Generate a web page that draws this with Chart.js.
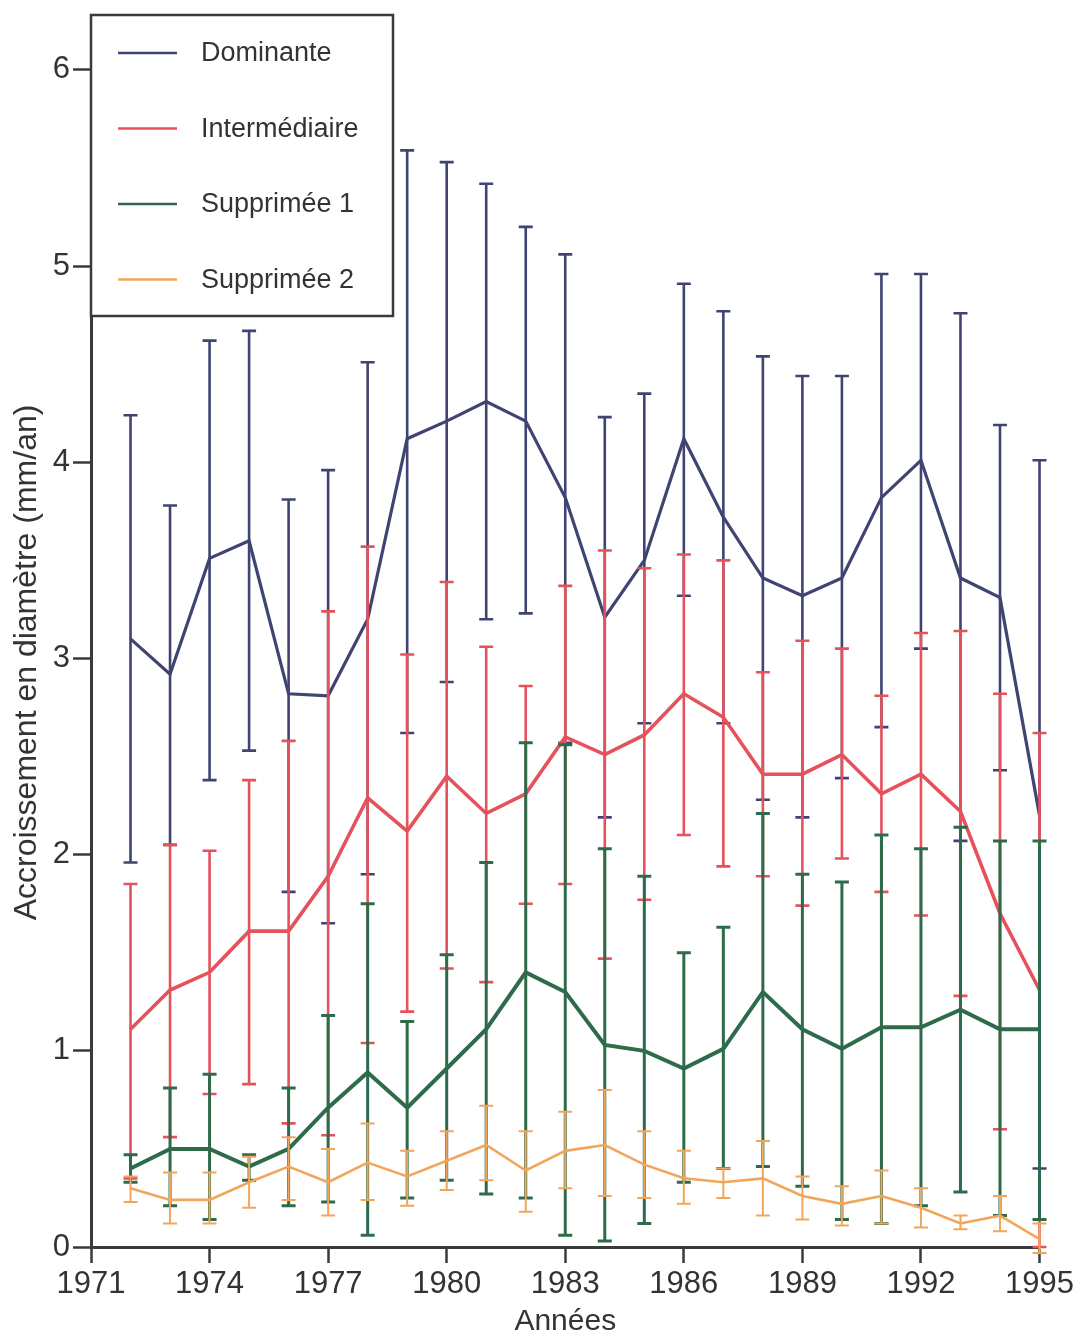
<!DOCTYPE html>
<html>
<head>
<meta charset="utf-8">
<script src="https://cdn.jsdelivr.net/npm/chart.js@4.4.0/dist/chart.umd.min.js"></script>
<style>
  body { margin: 0; background: #fff; }
  #wrap { width: 1077px; height: 1340px; }
</style>
</head>
<body>
<div id="wrap"><canvas id="canvas" width="1077" height="1340"></canvas></div>
<script>
var years = [1972, 1973, 1974, 1975, 1976, 1977, 1978, 1979, 1980, 1981, 1982, 1983,
             1984, 1985, 1986, 1987, 1988, 1989, 1990, 1991, 1992, 1993, 1994, 1995];

// moyennes et bornes des barres d'erreur (mm/an)
var domMean = [3.10, 2.92, 3.51, 3.60, 2.82, 2.81, 3.20, 4.12, 4.21, 4.31, 4.21, 3.82, 3.21, 3.50, 4.12, 3.72, 3.41, 3.32, 3.41, 3.82, 4.01, 3.41, 3.31, 2.20];
var domHi   = [4.24, 3.78, 4.62, 4.67, 3.81, 3.96, 4.51, 5.59, 5.53, 5.42, 5.20, 5.06, 4.23, 4.35, 4.91, 4.77, 4.54, 4.44, 4.44, 4.96, 4.96, 4.76, 4.19, 4.01];
var domLo   = [1.96, 2.05, 2.38, 2.53, 1.81, 1.65, 1.90, 2.62, 2.88, 3.20, 3.23, 2.57, 2.19, 2.67, 3.32, 2.67, 2.28, 2.19, 2.39, 2.65, 3.05, 2.07, 2.43, 0.40];

var intMean = [1.11, 1.31, 1.40, 1.61, 1.61, 1.89, 2.29, 2.12, 2.40, 2.21, 2.31, 2.60, 2.51, 2.61, 2.82, 2.70, 2.41, 2.41, 2.51, 2.31, 2.41, 2.22, 1.70, 1.31];
var intHi   = [1.85, 2.05, 2.02, 2.38, 2.58, 3.24, 3.57, 3.02, 3.39, 3.06, 2.86, 3.37, 3.55, 3.46, 3.53, 3.50, 2.93, 3.09, 3.05, 2.81, 3.13, 3.14, 2.82, 2.62];
var intLo   = [0.35, 0.56, 0.78, 0.83, 0.63, 0.57, 1.04, 1.20, 1.42, 1.35, 1.75, 1.85, 1.47, 1.77, 2.10, 1.94, 1.89, 1.74, 1.98, 1.81, 1.69, 1.28, 0.60, 0.00];

var sup1Mean = [0.40, 0.50, 0.50, 0.41, 0.50, 0.71, 0.89, 0.71, 0.91, 1.11, 1.40, 1.30, 1.03, 1.00, 0.91, 1.01, 1.30, 1.11, 1.01, 1.12, 1.12, 1.21, 1.11, 1.11];
var sup1Hi   = [0.47, 0.81, 0.88, 0.47, 0.81, 1.18, 1.75, 1.15, 1.49, 1.96, 2.57, 2.56, 2.03, 1.89, 1.50, 1.63, 2.21, 1.90, 1.86, 2.10, 2.03, 2.14, 2.07, 2.07];
var sup1Lo   = [0.33, 0.21, 0.14, 0.34, 0.21, 0.23, 0.06, 0.25, 0.34, 0.27, 0.25, 0.06, 0.03, 0.12, 0.33, 0.40, 0.41, 0.31, 0.14, 0.12, 0.21, 0.28, 0.16, 0.14];

var sup2Mean = [0.30, 0.24, 0.24, 0.33, 0.41, 0.33, 0.43, 0.36, 0.44, 0.52, 0.39, 0.49, 0.52, 0.42, 0.35, 0.33, 0.35, 0.26, 0.22, 0.26, 0.20, 0.12, 0.16, 0.04];
var sup2Hi   = [0.36, 0.38, 0.38, 0.46, 0.56, 0.50, 0.63, 0.49, 0.59, 0.72, 0.59, 0.69, 0.80, 0.59, 0.49, 0.40, 0.54, 0.36, 0.31, 0.39, 0.30, 0.16, 0.26, 0.12];
var sup2Lo   = [0.23, 0.12, 0.12, 0.20, 0.24, 0.16, 0.24, 0.21, 0.29, 0.34, 0.18, 0.30, 0.26, 0.25, 0.22, 0.25, 0.16, 0.14, 0.11, 0.12, 0.10, 0.09, 0.08, -0.03];

var yTicks = [0, 1, 2, 3, 4, 5, 6];
var xTicks = [1971, 1974, 1977, 1980, 1983, 1986, 1989, 1992, 1995];

var colors = {
  dom: '#3f4472',
  int: '#e6525c',
  sup1: '#2e6b4b',
  sup2: '#f1a65c',
  axis: '#3a3a3a'
};

var font = '"Liberation Sans", Arial, sans-serif';

function pts(vals) {
  return years.map(function(y, i) { return { x: y, y: vals[i] }; });
}

var errorBars = {
  id: 'errorBars',
  afterDatasetDraw: function(chart, args) {
    var ds = chart.data.datasets[args.index];
    var ctx = chart.ctx, xs = chart.scales.x, ys = chart.scales.y;
    ctx.save();
    ctx.strokeStyle = ds.capColor;
    ctx.lineWidth = ds.errWidth;
    for (var i = 0; i < years.length; i++) {
      var x = xs.getPixelForValue(years[i]);
      var yH = ys.getPixelForValue(ds.hi[i]);
      var yL = ys.getPixelForValue(ds.lo[i]);
      ctx.beginPath();
      ctx.moveTo(x, yH); ctx.lineTo(x, yL);
      ctx.moveTo(x - 7, yH); ctx.lineTo(x + 7, yH);
      ctx.moveTo(x - 7, yL); ctx.lineTo(x + 7, yL);
      ctx.stroke();
    }
    ctx.restore();
  }
};

// legende encadree dans le coin haut gauche + titre de l'axe y centre sur 0-6
var boxLegend = {
  id: 'boxLegend',
  afterDraw: function(chart) {
    var ctx = chart.ctx, a = chart.chartArea, ys = chart.scales.y;
    var left = a.left, top = a.top, w = 302, h = 301;
    ctx.save();
    ctx.fillStyle = '#fff';
    ctx.fillRect(left, top, w, h);
    ctx.strokeStyle = colors.axis;
    ctx.lineWidth = 2.5;
    ctx.strokeRect(left, top, w, h);
    ctx.font = '27px ' + font;
    ctx.textBaseline = 'middle';
    ctx.fillStyle = '#333';
    chart.data.datasets.forEach(function(ds, i) {
      var y = top + 38 + i * 75.5;
      ctx.strokeStyle = ds.borderColor;
      ctx.lineWidth = 2.5;
      ctx.beginPath();
      ctx.moveTo(left + 27, y);
      ctx.lineTo(left + 86, y);
      ctx.stroke();
      ctx.fillText(ds.label, left + 110, y + 1);
    });

    ctx.translate(27, ys.getPixelForValue(3) + 4);
    ctx.rotate(-Math.PI / 2);
    ctx.font = '32px ' + font;
    ctx.textAlign = 'center';
    ctx.fillText('Accroissement en diamètre (mm/an)', 0, 0);
    ctx.restore();
  }
};

window.onload = function() {
  var config = {
    type: 'line',
    data: {
      datasets: [{
        label: 'Dominante',
        data: pts(domMean), hi: domHi, lo: domLo,
        borderColor: colors.dom, capColor: colors.dom,
        borderWidth: 3.2, errWidth: 2.6, order: 3
      }, {
        label: 'Intermédiaire',
        data: pts(intMean), hi: intHi, lo: intLo,
        borderColor: colors.int, capColor: colors.int,
        borderWidth: 3.6, errWidth: 2.6, order: 2
      }, {
        label: 'Supprimée 1',
        data: pts(sup1Mean), hi: sup1Hi, lo: sup1Lo,
        borderColor: colors.sup1, capColor: colors.sup1,
        borderWidth: 4, errWidth: 3, order: 1
      }, {
        label: 'Supprimée 2',
        data: pts(sup2Mean), hi: sup2Hi, lo: sup2Lo,
        borderColor: colors.sup2, capColor: colors.sup2,
        borderWidth: 2.6, errWidth: 2, order: 0
      }]
    },
    options: {
      responsive: false,
      animation: false,
      devicePixelRatio: 1,
      layout: { padding: { top: 15, right: 36, left: 0, bottom: 0 } },
      elements: {
        point: { radius: 0, hoverRadius: 0 },
        line: { tension: 0, fill: false }
      },
      datasets: { line: { clip: false } },
      plugins: {
        legend: { display: false },
        tooltip: { enabled: false }
      },
      scales: {
        x: {
          type: 'linear',
          min: 1971, max: 1995,
          afterFit: function(s) { s.height = 93; },
          afterBuildTicks: function(s) { s.ticks = xTicks.map(function(v) { return { value: v }; }); },
          ticks: {
            autoSkip: false, maxRotation: 0, padding: 3,
            color: '#333', font: { family: font, size: 31 },
            callback: function(v) { return String(v); }
          },
          grid: { drawOnChartArea: false, drawTicks: true, tickLength: 16, tickWidth: 2.5, color: colors.axis },
          border: { display: true, color: colors.axis, width: 3 },
          title: {
            display: true, text: 'Années', color: '#333',
            font: { family: font, size: 30 }, padding: { top: 0, bottom: 0 }
          }
        },
        y: {
          type: 'linear',
          min: 0, max: 6.28,
          afterFit: function(s) { s.width = 91; s.paddingTop = 0; s.paddingBottom = 0; },
          afterBuildTicks: function(s) { s.ticks = yTicks.map(function(v) { return { value: v }; }); },
          ticks: {
            padding: 3, color: '#333', font: { family: font, size: 31 },
            callback: function(v) { return String(v); }
          },
          grid: { drawOnChartArea: false, drawTicks: true, tickLength: 18, tickWidth: 2.5, color: colors.axis },
          border: { display: true, color: colors.axis, width: 3 }
        }
      }
    },
    plugins: [errorBars, boxLegend]
  };
  window.myChart = new Chart(document.getElementById('canvas'), config);
};
</script>
</body>
</html>
